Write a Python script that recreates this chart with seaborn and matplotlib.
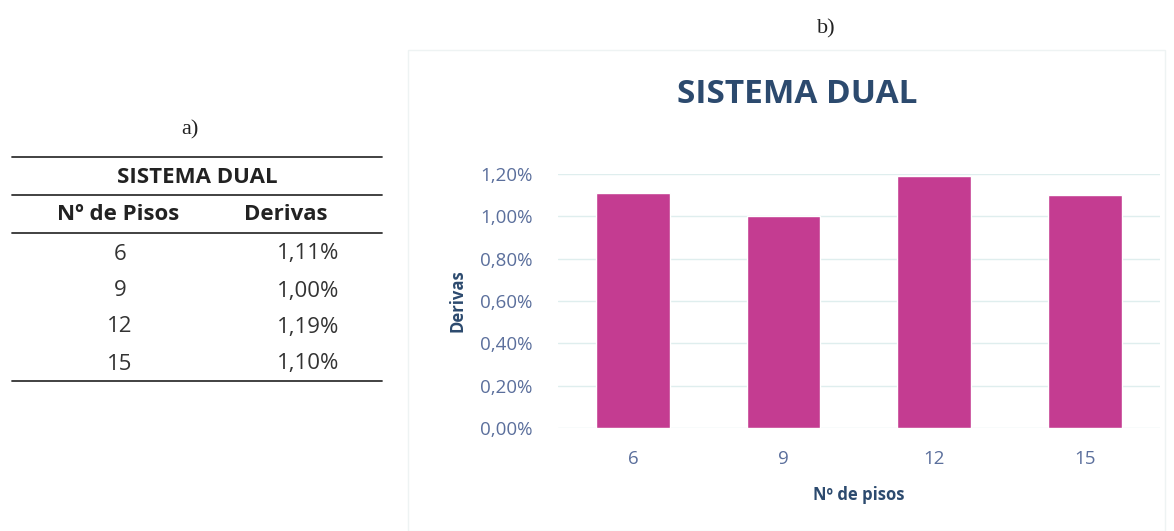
import pandas as pd
import matplotlib.pyplot as plt
import seaborn as sns
from matplotlib.ticker import FuncFormatter
from matplotlib.lines import Line2D
from matplotlib.patches import Rectangle

# data
pisos = ["6", "9", "12", "15"]
derivas = [1.11, 1.00, 1.19, 1.10]  # %
yticks = [0.0, 0.2, 0.4, 0.6, 0.8, 1.0, 1.2]

df = pd.DataFrame({"pisos": pisos, "derivas": derivas})

sns.set_theme(style="white")
plt.rcParams['font.family'] = ['Open Sans', 'DejaVu Sans']

navy = "#2c4a6e"
tick_col = "#5b6f9c"
bar_col = "#c43c91"

fig = plt.figure(figsize=(11.74, 5.31), dpi=100)

def pct(v, _=None):
    return f"{v:.2f}%".replace(".", ",")

# ---- b) chart
ax = fig.add_axes([0.475, 0.194, 0.513, 0.478])
sns.barplot(data=df, x="pisos", y="derivas", color=bar_col, width=0.49,
            saturation=1, ax=ax, zorder=2)
ax.set_ylim(0, 1.2)
ax.set_xlim(-0.5, 3.5)
ax.set_yticks(yticks)
ax.yaxis.set_major_formatter(FuncFormatter(pct))
ax.grid(axis="y", color="#dfeeee", linewidth=1, zorder=0)
for s in ax.spines.values():
    s.set_visible(False)
ax.tick_params(axis="both", length=0, labelsize=13.5, colors=tick_col)
ax.tick_params(axis="x", pad=16)
ax.tick_params(axis="y", pad=18)
ax.set_xlabel("Nº de pisos", fontsize=12, fontweight="bold", color=navy, labelpad=13)
ax.set_ylabel("Derivas", fontsize=12, fontweight="bold", color=navy, labelpad=10)

fig.text(0.679, 0.822, "SISTEMA DUAL", fontsize=24, fontweight="bold", color=navy,
         ha="center", va="center")
fig.text(0.704, 0.945, "b)", fontsize=16, family="Liberation Serif", color="#222222",
         ha="center", va="center")

# light frame around chart panel
fig.add_artist(Rectangle((408 / 1174, 0.0), (1165 - 408) / 1174, (531 - 50) / 531,
                         transform=fig.transFigure, fill=False, edgecolor="#eef3f3",
                         linewidth=1))

# ---- a) table
W, H = 1174, 531
def fx(px):
    return px / W
def fy(py):
    return 1 - py / H

fig.text(fx(190), fy(130), "a)", fontsize=16, family="Liberation Serif", color="#222222",
         ha="center", va="center")
for y in [157, 195, 233, 381]:
    fig.add_artist(Line2D([fx(12), fx(382)], [fy(y), fy(y)], transform=fig.transFigure,
                          color="#333333", linewidth=1.3))
fig.text(fx(197), fy(178), "SISTEMA DUAL", fontsize=16, fontweight="bold", color="#222222",
         ha="center", va="center")
fig.text(fx(118), fy(214), "Nº de Pisos", fontsize=16, fontweight="bold", color="#222222",
         ha="center", va="center")
fig.text(fx(286), fy(214), "Derivas", fontsize=16, fontweight="bold", color="#222222",
         ha="center", va="center")
row_y = [254, 291, 327, 364]
for p, d, y in zip(pisos, derivas, row_y):
    fig.text(fx(120), fy(y), p, fontsize=16, color="#333333", ha="center", va="center")
    fig.text(fx(339), fy(y), pct(d), fontsize=16, color="#333333", ha="right", va="center")

fig.savefig("out.png", dpi=100)
